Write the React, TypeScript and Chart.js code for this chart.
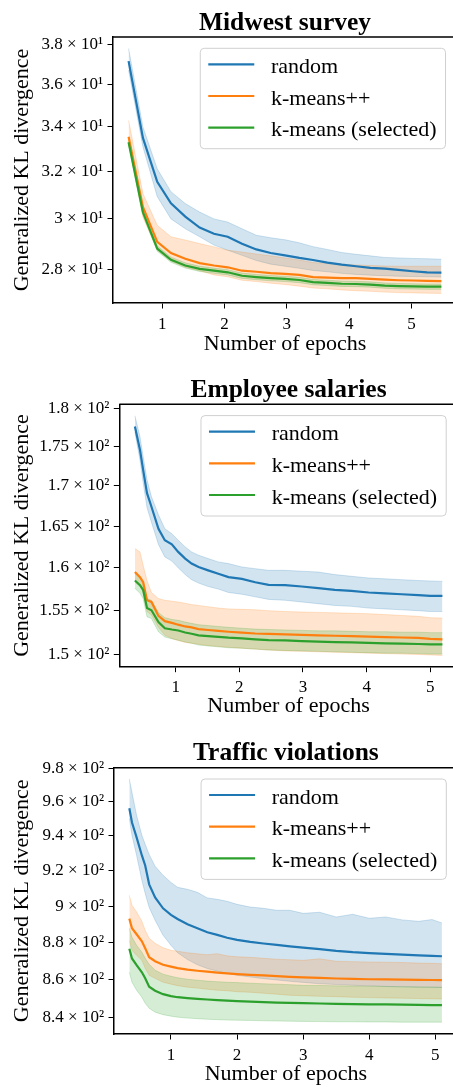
import React, { useEffect, useRef } from 'react';
import { Chart, registerables } from 'chart.js';

Chart.register(...registerables);

const FONT = "'Liberation Serif', 'Times New Roman', serif";
const COLORS = ['#1f77b4', '#ff7f0e', '#2ca02c'];
const SERIES_LABELS = ['random', 'k-means++', 'k-means (selected)'];
const X_TICKS = [1, 2, 3, 4, 5];
const X_TITLE = 'Number of epochs';
const Y_TITLE = 'Generalized KL divergence';

// ---------- Midwest survey ----------
const MW_X = [0.46, 0.69, 0.92, 1.14, 1.37, 1.6, 1.83, 2.05, 2.28, 2.51, 2.74, 2.97, 3.2, 3.42, 3.65, 3.88, 4.11, 4.34, 4.57, 4.79, 5.02, 5.25, 5.48];
const MW_RANDOM = [37.17, 33.49, 31.55, 30.64, 30.09, 29.65, 29.4, 29.28, 29.0, 28.78, 28.64, 28.55, 28.45, 28.37, 28.27, 28.19, 28.13, 28.07, 28.04, 27.99, 27.94, 27.9, 27.89];
const MW_RANDOM_HI = [37.81, 33.99, 32.11, 31.13, 30.63, 30.28, 30.0, 29.87, 29.6, 29.34, 29.24, 29.16, 29.04, 28.89, 28.78, 28.66, 28.59, 28.53, 28.47, 28.45, 28.43, 28.42, 28.4];
const MW_RANDOM_LO = [36.72, 33.09, 30.92, 30.0, 29.6, 29.28, 28.95, 28.75, 28.55, 28.35, 28.21, 28.13, 28.05, 27.97, 27.92, 27.86, 27.82, 27.79, 27.77, 27.75, 27.74, 27.73, 27.72];
const MW_KPP = [33.54, 30.49, 29.08, 28.64, 28.42, 28.25, 28.16, 28.09, 27.96, 27.92, 27.87, 27.84, 27.8, 27.72, 27.7, 27.68, 27.68, 27.65, 27.62, 27.6, 27.59, 27.58, 27.57];
const MW_KPP_HI = [34.29, 31.05, 29.74, 29.28, 29.15, 29.01, 28.88, 28.75, 28.68, 28.6, 28.53, 28.45, 28.37, 28.27, 28.24, 28.21, 28.18, 28.16, 28.14, 28.13, 28.13, 28.13, 28.13];
const MW_KPP_LO = [33.24, 30.07, 28.75, 28.33, 28.09, 27.96, 27.8, 27.73, 27.6, 27.55, 27.49, 27.44, 27.38, 27.31, 27.28, 27.24, 27.21, 27.19, 27.16, 27.14, 27.13, 27.12, 27.11];
const MW_KM = [33.29, 30.27, 28.81, 28.38, 28.16, 28.03, 27.96, 27.9, 27.77, 27.72, 27.68, 27.65, 27.61, 27.53, 27.5, 27.47, 27.46, 27.44, 27.4, 27.38, 27.37, 27.36, 27.36];
const MW_KM_HI = [33.35, 30.37, 28.92, 28.48, 28.26, 28.13, 28.06, 28.0, 27.87, 27.82, 27.78, 27.75, 27.71, 27.63, 27.6, 27.57, 27.56, 27.54, 27.5, 27.48, 27.47, 27.46, 27.46];
const MW_KM_LO = [33.22, 30.17, 28.71, 28.28, 28.06, 27.93, 27.86, 27.8, 27.67, 27.62, 27.58, 27.55, 27.51, 27.43, 27.4, 27.37, 27.36, 27.34, 27.3, 27.28, 27.27, 27.26, 27.26];
const MW_Y_TICKS = [28, 30, 32, 34, 36, 38];
const MW_Y_LABELS = ['2.8 × 10¹', '3 × 10¹', '3.2 × 10¹', '3.4 × 10¹', '3.6 × 10¹', '3.8 × 10¹'];

// ---------- Employee salaries ----------
const ES_X = [0.36, 0.44, 0.49, 0.55, 0.62, 0.73, 0.83, 0.94, 1.04, 1.15, 1.25, 1.36, 1.51, 1.67, 1.83, 2.04, 2.25, 2.46, 2.72, 2.98, 3.24, 3.5, 3.76, 4.03, 4.29, 4.55, 4.81, 5.0, 5.19];
const ES_RANDOM = [177.65, 174.6, 172.0, 169.1, 167.4, 164.7, 163.3, 162.8, 161.9, 161.1, 160.5, 160.1, 159.7, 159.3, 158.9, 158.7, 158.3, 158.0, 157.96, 157.8, 157.6, 157.4, 157.3, 157.1, 157.0, 156.9, 156.8, 156.7, 156.7];
const ES_RANDOM_HI = [179.07, 176.3, 173.7, 170.8, 168.65, 166.4, 164.7, 164.1, 163.3, 162.5, 161.9, 161.5, 161.1, 160.7, 160.5, 160.1, 159.9, 159.7, 159.7, 159.6, 159.5, 159.2, 159.0, 158.8, 158.7, 158.6, 158.5, 158.45, 158.4];
const ES_RANDOM_LO = [176.9, 173.3, 170.4, 167.3, 165.5, 162.8, 161.3, 160.8, 160.0, 159.2, 158.6, 158.2, 157.8, 157.5, 157.1, 156.9, 156.6, 156.3, 156.2, 156.0, 155.8, 155.6, 155.5, 155.3, 155.2, 155.1, 155.0, 154.9, 154.9];
const ES_KPP = [159.5, 158.9, 158.3, 156.2, 156.0, 154.4, 153.8, 153.6, 153.4, 153.2, 153.1, 152.9, 152.8, 152.7, 152.6, 152.5, 152.4, 152.35, 152.3, 152.25, 152.2, 152.15, 152.1, 152.05, 152.0, 151.95, 151.9, 151.8, 151.75];
const ES_KPP_HI = [162.3, 161.9, 160.3, 158.5, 157.1, 156.4, 156.2, 156.1, 156.0, 155.85, 155.7, 155.6, 155.45, 155.3, 155.2, 155.15, 155.1, 155.0, 154.9, 154.85, 154.8, 154.75, 154.7, 154.65, 154.55, 154.45, 154.35, 154.2, 154.15];
const ES_KPP_LO = [158.3, 157.8, 157.1, 154.9, 154.5, 153.1, 152.2, 151.85, 151.6, 151.4, 151.3, 151.2, 151.05, 150.95, 150.85, 150.75, 150.65, 150.55, 150.45, 150.4, 150.35, 150.3, 150.25, 150.2, 150.15, 150.1, 150.05, 150.0, 149.95];
const ES_KM = [158.5, 157.96, 157.4, 155.3, 155.05, 153.7, 153.0, 152.85, 152.74, 152.52, 152.37, 152.19, 152.11, 152.02, 151.93, 151.85, 151.74, 151.66, 151.63, 151.54, 151.48, 151.44, 151.4, 151.35, 151.29, 151.26, 151.22, 151.18, 151.18];
const ES_KM_HI = [159.3, 158.9, 158.4, 156.4, 156.2, 154.8, 154.2, 154.0, 153.9, 153.7, 153.55, 153.4, 153.3, 153.2, 153.1, 153.0, 152.9, 152.85, 152.8, 152.75, 152.7, 152.7, 152.65, 152.6, 152.6, 152.55, 152.55, 152.5, 152.5];
const ES_KM_LO = [157.6, 157.0, 156.4, 154.3, 154.1, 152.6, 152.0, 151.8, 151.65, 151.45, 151.3, 151.1, 151.0, 150.9, 150.8, 150.75, 150.65, 150.55, 150.5, 150.45, 150.4, 150.35, 150.3, 150.25, 150.2, 150.2, 150.15, 150.1, 150.1];
const ES_Y_TICKS = [150, 155, 160, 165, 170, 175, 180];
const ES_Y_LABELS = ['1.5 × 10²', '1.55 × 10²', '1.6 × 10²', '1.65 × 10²', '1.7 × 10²', '1.75 × 10²', '1.8 × 10²'];

// ---------- Traffic violations ----------
const TV_X = [0.37, 0.41, 0.48, 0.56, 0.61, 0.67, 0.76, 0.88, 1.0, 1.1, 1.25, 1.4, 1.55, 1.7, 1.85, 2.0, 2.2, 2.4, 2.6, 2.8, 3.0, 3.25, 3.5, 3.75, 4.0, 4.25, 4.5, 4.75, 4.95, 5.1];
const TV_RANDOM = [956.1, 947.7, 939.0, 928.6, 922.9, 912.2, 904.9, 898.8, 895.2, 892.9, 890.0, 887.8, 885.6, 884.2, 882.6, 881.5, 880.4, 879.5, 878.7, 877.9, 877.2, 876.4, 875.5, 874.8, 874.3, 873.9, 873.5, 873.1, 872.8, 872.6];
const TV_RANDOM_HI = [973.5, 965.4, 951.8, 940.2, 935.0, 929.2, 922.4, 917.3, 913.3, 910.5, 909.4, 907.7, 904.6, 903.8, 902.7, 901.0, 899.5, 898.8, 897.7, 897.7, 896.0, 896.6, 894.0, 895.5, 893.3, 894.0, 892.4, 891.6, 892.6, 890.7];
const TV_RANDOM_LO = [950.1, 940.2, 928.6, 914.4, 907.1, 899.3, 892.2, 884.0, 878.5, 874.5, 870.8, 868.0, 866.0, 864.6, 863.4, 862.4, 861.5, 860.6, 859.9, 859.2, 858.6, 857.9, 857.5, 857.1, 856.8, 856.5, 856.3, 856.1, 856.0, 855.9];
const TV_KPP = [893.1, 887.8, 884.5, 880.7, 876.9, 872.1, 869.9, 868.0, 867.0, 866.2, 865.4, 864.8, 864.3, 863.8, 863.4, 863.0, 862.6, 862.3, 861.9, 861.6, 861.3, 861.0, 860.7, 860.5, 860.3, 860.2, 860.1, 860.0, 859.9, 859.8];
const TV_KPP_HI = [906.0, 900.5, 896.8, 891.6, 886.7, 882.3, 879.6, 877.2, 875.8, 875.3, 874.5, 873.9, 873.4, 874.0, 872.8, 872.3, 872.0, 871.5, 871.0, 870.7, 870.4, 871.2, 869.9, 869.7, 869.5, 869.4, 869.2, 868.9, 868.8, 868.6];
const TV_KPP_LO = [881.1, 875.8, 873.1, 870.4, 866.2, 862.4, 860.8, 858.7, 857.7, 856.9, 856.1, 855.6, 855.0, 854.5, 854.2, 853.7, 853.4, 852.9, 852.4, 851.8, 851.6, 851.3, 851.1, 850.8, 850.6, 850.4, 850.3, 850.1, 850.0, 849.9];
const TV_KM = [876.6, 871.4, 867.8, 864.0, 860.8, 856.3, 854.2, 852.4, 851.4, 850.8, 850.3, 849.9, 849.6, 849.3, 849.0, 848.8, 848.5, 848.2, 848.0, 847.8, 847.7, 847.5, 847.3, 847.2, 847.1, 847.0, 846.9, 846.8, 846.7, 846.7];
const TV_KM_HI = [887.8, 882.9, 878.5, 874.8, 871.5, 868.3, 865.1, 863.0, 861.9, 861.1, 860.3, 859.8, 859.3, 859.0, 858.7, 858.5, 858.2, 857.9, 857.7, 857.4, 857.1, 857.0, 856.8, 856.7, 856.6, 856.4, 856.3, 856.2, 856.2, 856.1];
const TV_KM_LO = [864.0, 858.7, 854.5, 850.8, 847.6, 845.0, 843.0, 841.7, 840.9, 840.4, 839.9, 839.6, 839.3, 839.1, 838.9, 838.8, 838.7, 838.5, 838.4, 838.3, 838.2, 838.1, 838.0, 838.0, 837.9, 837.9, 837.8, 837.8, 837.8, 837.8];
const TV_Y_TICKS = [840, 860, 880, 900, 920, 940, 960, 980];
const TV_Y_LABELS = ['8.4 × 10²', '8.6 × 10²', '8.8 × 10²', '9 × 10²', '9.2 × 10²', '9.4 × 10²', '9.6 × 10²', '9.8 × 10²'];

const CANVAS_W = 480;

type Panel = {
  title: string;
  xs: number[];
  mean: number[][];
  hi: number[][];
  lo: number[][];
  yTicks: number[];
  yLabels: string[];
  yMin: number;
  yMax: number;
  xMin: number;
  xMax: number;
  top: number;
  height: number;
  area: { left: number; top: number; right: number; bottom: number };
  xTitlePad: number;
};

const PANELS: Panel[] = [
  {
    title: 'Midwest survey',
    xs: MW_X,
    mean: [MW_RANDOM, MW_KPP, MW_KM],
    hi: [MW_RANDOM_HI, MW_KPP_HI, MW_KM_HI],
    lo: [MW_RANDOM_LO, MW_KPP_LO, MW_KM_LO],
    yTicks: MW_Y_TICKS,
    yLabels: MW_Y_LABELS,
    yMin: 26.76,
    yMax: 38.41,
    xMin: 0.21,
    xMax: 5.73,
    top: 0,
    height: 360,
    area: { left: 113, top: 37, right: 457, bottom: 303 },
    xTitlePad: 2.7,
  },
  {
    title: 'Employee salaries',
    xs: ES_X,
    mean: [ES_RANDOM, ES_KPP, ES_KM],
    hi: [ES_RANDOM_HI, ES_KPP_HI, ES_KM_HI],
    lo: [ES_RANDOM_LO, ES_KPP_LO, ES_KM_LO],
    yTicks: ES_Y_TICKS,
    yLabels: ES_Y_LABELS,
    yMin: 148.7,
    yMax: 180.6,
    xMin: 0.115,
    xMax: 5.43,
    top: 360,
    height: 360,
    area: { left: 119.3, top: 44.3, right: 457.7, bottom: 306.7 },
    xTitlePad: 0.4,
  },
  {
    title: 'Traffic violations',
    xs: TV_X,
    mean: [TV_RANDOM, TV_KPP, TV_KM],
    hi: [TV_RANDOM_HI, TV_KPP_HI, TV_KM_HI],
    lo: [TV_RANDOM_LO, TV_KPP_LO, TV_KM_LO],
    yTicks: TV_Y_TICKS,
    yLabels: TV_Y_LABELS,
    yMin: 831.7,
    yMax: 980.3,
    xMin: 0.138,
    xMax: 5.34,
    top: 720,
    height: 367,
    area: { left: 114, top: 47.7, right: 457.8, bottom: 314 },
    xTitlePad: 0,
  },
];

function rgba(hex: string, a: number) {
  const n = parseInt(hex.slice(1), 16);
  return `rgba(${(n >> 16) & 255},${(n >> 8) & 255},${n & 255},${a})`;
}

const framePlugin = {
  id: 'frame',
  afterDraw(chart: any, _args: any, opts: any) {
    const { ctx, chartArea: a } = chart;
    ctx.save();
    // top and right spines
    ctx.strokeStyle = '#000';
    ctx.lineWidth = 1.5;
    ctx.beginPath();
    ctx.moveTo(a.left, a.top);
    ctx.lineTo(a.right, a.top);
    ctx.lineTo(a.right, a.bottom);
    ctx.stroke();
    // title
    ctx.fillStyle = '#000';
    ctx.font = `bold 25.5px ${FONT}`;
    ctx.textAlign = 'center';
    ctx.textBaseline = 'alphabetic';
    ctx.fillText(opts.title, (a.left + a.right) / 2, a.top - 7.5);
    // legend
    const fs = 22;
    ctx.font = `${fs}px ${FONT}`;
    const tw = Math.max(...SERIES_LABELS.map((l) => ctx.measureText(l).width));
    const padL = 8, handle = 46, gap = 16.7, padR = 9, rowH = 31.7;
    const w = padL + handle + gap + tw + padR;
    const h = 16 + 2 * rowH + 21;
    const right = a.right - 11.5;
    const top = a.top + 11.3;
    const left = right - w;
    ctx.beginPath();
    if (ctx.roundRect) ctx.roundRect(left, top, w, h, 4);
    else ctx.rect(left, top, w, h);
    ctx.fillStyle = 'rgba(255,255,255,0.8)';
    ctx.fill();
    ctx.strokeStyle = '#d0d0d0';
    ctx.lineWidth = 1;
    ctx.stroke();
    SERIES_LABELS.forEach((lab, i) => {
      const y = top + 16 + i * rowH;
      ctx.strokeStyle = COLORS[i];
      ctx.lineWidth = 2.2;
      ctx.beginPath();
      ctx.moveTo(left + padL, y);
      ctx.lineTo(left + padL + handle, y);
      ctx.stroke();
      ctx.fillStyle = '#000';
      ctx.textAlign = 'left';
      ctx.textBaseline = 'alphabetic';
      ctx.fillText(lab, left + padL + handle + gap, y + 8.5);
    });
    ctx.restore();
  },
};

function buildConfig(p: Panel): any {
  const datasets: any[] = [];
  COLORS.forEach((c, i) => {
    datasets.push({
      label: SERIES_LABELS[i] + ' upper',
      data: p.xs.map((x, j) => ({ x, y: p.hi[i][j] })),
      borderColor: rgba(c, 0.2),
      backgroundColor: rgba(c, 0.2),
      borderWidth: 1,
      pointRadius: 0,
      fill: '+1',
      order: 10 - i * 2,
    });
    datasets.push({
      label: SERIES_LABELS[i] + ' lower',
      data: p.xs.map((x, j) => ({ x, y: p.lo[i][j] })),
      borderColor: rgba(c, 0.2),
      backgroundColor: rgba(c, 0.2),
      borderWidth: 1,
      pointRadius: 0,
      fill: false,
      order: 9.5 - i * 2,
    });
  });
  COLORS.forEach((c, i) => {
    datasets.push({
      label: SERIES_LABELS[i],
      data: p.xs.map((x, j) => ({ x, y: p.mean[i][j] })),
      borderColor: c,
      backgroundColor: c,
      borderWidth: 2.2,
      pointRadius: 0,
      fill: false,
      order: 3 - i,
    });
  });

  const gridOpts = {
    display: true,
    drawOnChartArea: false,
    drawTicks: true,
    tickLength: 5.5,
    tickWidth: 1,
    tickColor: '#000',
  };
  const borderOpts = { display: true, color: '#000', width: 1.5 };

  return {
    type: 'line',
    data: { datasets },
    plugins: [framePlugin],
    options: {
      animation: false,
      responsive: false,
      maintainAspectRatio: false,
      devicePixelRatio: 1,
      events: [],
      layout: {
        padding: { top: p.area.top, left: 0, right: CANVAS_W - p.area.right, bottom: 0 },
      },
      plugins: {
        legend: { display: false },
        tooltip: { enabled: false },
        title: { display: false },
        frame: { title: p.title },
      },
      scales: {
        x: {
          type: 'linear',
          min: p.xMin,
          max: p.xMax,
          afterBuildTicks: (s: any) => {
            s.ticks = X_TICKS.map((v) => ({ value: v }));
          },
          afterFit: (s: any) => {
            s.height = p.height - p.area.bottom;
          },
          ticks: {
            font: { family: FONT, size: 17 },
            color: '#000',
            padding: 5.5,
            maxRotation: 0,
            autoSkip: false,
            callback: (v: any) => String(v),
          },
          grid: gridOpts,
          border: borderOpts,
          title: {
            display: true,
            text: X_TITLE,
            color: '#000',
            font: { family: FONT, size: 22 },
            padding: { top: 0, bottom: p.xTitlePad },
          },
        },
        y: {
          type: 'logarithmic',
          min: p.yMin,
          max: p.yMax,
          afterBuildTicks: (s: any) => {
            s.ticks = p.yTicks.map((v) => ({ value: v }));
          },
          afterFit: (s: any) => {
            s.width = p.area.left;
          },
          ticks: {
            font: { family: FONT, size: 17 },
            color: '#000',
            padding: 4.5,
            autoSkip: false,
            callback: (v: any) => {
              const k = p.yTicks.findIndex((t) => Math.abs(t - v) < 1e-6);
              return k >= 0 ? p.yLabels[k] : '';
            },
          },
          grid: gridOpts,
          border: borderOpts,
          title: {
            display: true,
            text: Y_TITLE,
            color: '#000',
            font: { family: FONT, size: 22 },
            padding: { top: 9.2, bottom: 0 },
          },
        },
      },
    },
  };
}

function PanelChart({ p }: { p: Panel }) {
  const ref = useRef<HTMLCanvasElement | null>(null);
  useEffect(() => {
    if (!ref.current) return;
    const chart = new Chart(ref.current, buildConfig(p));
    return () => chart.destroy();
  }, [p]);
  return (
    <canvas
      ref={ref}
      width={CANVAS_W}
      height={p.height}
      style={{
        position: 'absolute',
        left: 0,
        top: p.top,
        width: CANVAS_W,
        height: p.height,
        display: 'block',
      }}
    />
  );
}

export default function App() {
  return (
    <div
      style={{
        position: 'absolute',
        left: 0,
        top: 0,
        width: 453,
        height: 1087,
        overflow: 'hidden',
        background: '#fff',
      }}
    >
      {PANELS.map((p) => (
        <PanelChart key={p.title} p={p} />
      ))}
    </div>
  );
}
